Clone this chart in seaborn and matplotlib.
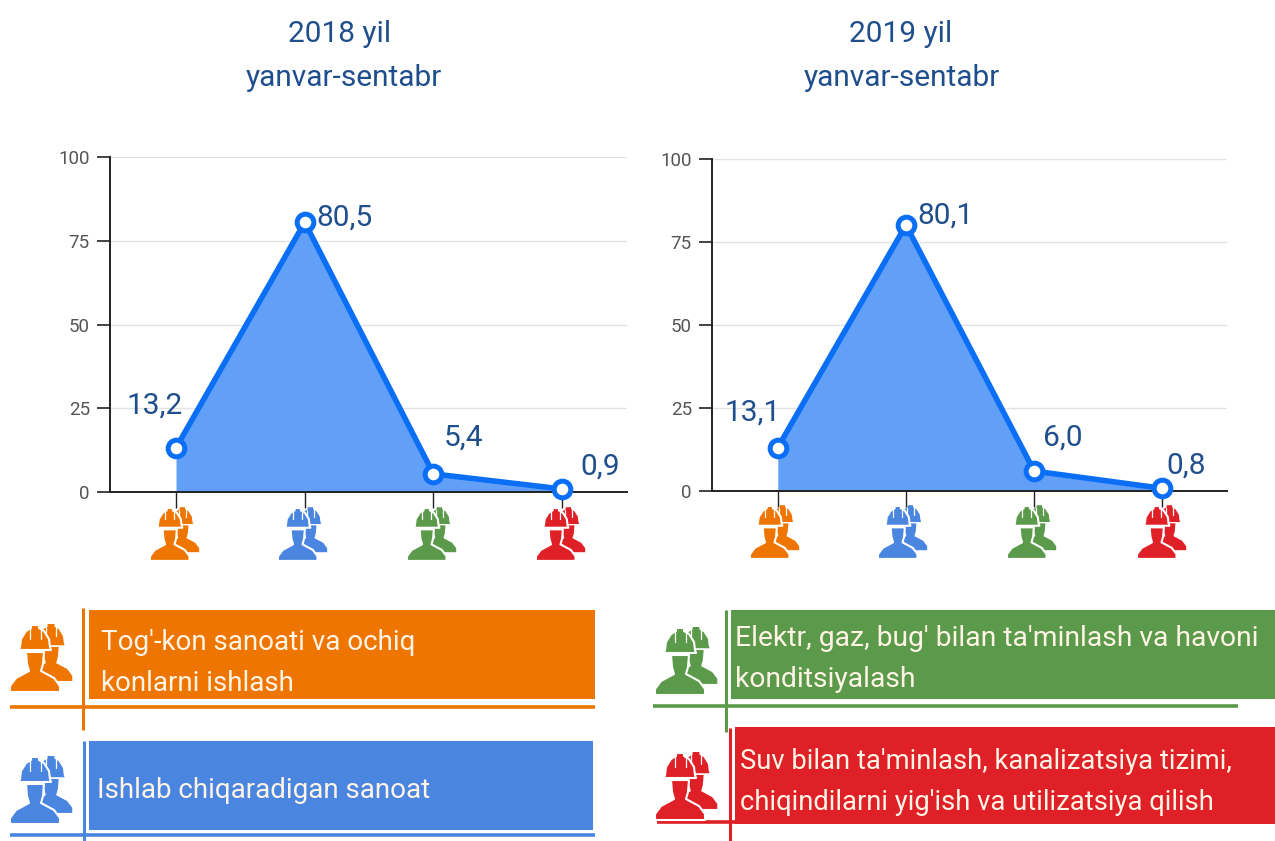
import matplotlib
matplotlib.use("Agg")
import matplotlib.pyplot as plt
import seaborn as sns
import pandas as pd
from matplotlib.patches import Rectangle, Polygon

categories = ["Tog'-kon", "Ishlab chiqarish", "Elektr", "Suv"]
values_2018 = [13.2, 80.5, 5.4, 0.9]
values_2019 = [13.1, 80.1, 6.0, 0.8]
labels_2018 = ["13,2", "80,5", "5,4", "0,9"]
labels_2019 = ["13,1", "80,1", "6,0", "0,8"]
yticks = [0, 25, 50, 75, 100]
title_2018 = ["2018 yil", "yanvar-sentabr"]
title_2019 = ["2019 yil", "yanvar-sentabr"]
legend_texts = ["Tog'-kon sanoati va ochiq\nkonlarni ishlash",
                "Ishlab chiqaradigan sanoat",
                "Elektr, gaz, bug' bilan ta'minlash va havoni\nkonditsiyalash",
                "Suv bilan ta'minlash, kanalizatsiya tizimi,\nchiqindilarni yig'ish va utilizatsiya qilish"]
colors = ["#EE7600", "#4A86E0", "#5B9A4B", "#E02027"]

W, H = 1275, 841
sns.set_theme(style="white")
plt.rcParams['font.family'] = ['Roboto', 'DejaVu Sans']
fig = plt.figure(figsize=(W / 100, H / 100), dpi=100, facecolor="white")

BLUE = "#0A6FF5"
FILL = "#62A0F8"
TXT = "#1F4E8C"

def make_ax(x0, x1, ytop, ybot):
    return fig.add_axes([x0 / W, 1 - ybot / H, (x1 - x0) / W, (ybot - ytop) / H])

def panel(ax, vals, labs, offs):
    df = pd.DataFrame({"pos": range(len(vals)), "share": vals})
    ax.fill_between(df["pos"], 0, df["share"], color=FILL, lw=0, zorder=2)
    sns.lineplot(data=df, x="pos", y="share", ax=ax, color=BLUE, lw=4.0, zorder=3,
                 marker="o", markersize=12, markerfacecolor="white",
                 markeredgecolor=BLUE, markeredgewidth=3.6, clip_on=False)
    ax.set_xlim(-0.513, 3.504)
    ax.set_ylim(0, 100)
    ax.set_yticks(yticks)
    ax.set_yticklabels([str(t) for t in yticks], fontsize=13.5, color="#555555")
    ax.set_xticks(range(4))
    ax.set_xticklabels([])
    ax.set_xlabel("")
    ax.set_ylabel("")
    ax.grid(axis="y", color="#E2E2E2", lw=1)
    ax.set_axisbelow(True)
    for s in ("top", "right"):
        ax.spines[s].set_visible(False)
    for s in ("left", "bottom"):
        ax.spines[s].set_color("#222222")
        ax.spines[s].set_linewidth(1.4)
        ax.spines[s].set_zorder(2.5)
    ax.tick_params(axis="y", length=9.5, width=1.2, color="#222222", left=True, pad=5)
    ax.tick_params(axis="x", length=11.5, width=1.0, color="#222222", bottom=True)
    for i, (v, l) in enumerate(zip(vals, labs)):
        ax.annotate(l, (i, v), xytext=offs[i], textcoords="offset pixels",
                    fontsize=21.5, color=TXT, ha="center", va="center", zorder=5)

ax1 = make_ax(110, 627, 157, 492)
panel(ax1, values_2018, labels_2018, [(-21, 42), (40, 5), (30, 36), (38, 22)])
ax2 = make_ax(712, 1227, 159, 491)
panel(ax2, values_2019, labels_2019, [(-25, 35), (40, 9), (29, 33), (24, 23)])

ov = fig.add_axes([0, 0, 1, 1], zorder=10)
ov.set_xlim(0, W)
ov.set_ylim(H, 0)
ov.axis("off")
ov.patch.set_alpha(0)

for (lines, x1, x2) in ((title_2018, 340, 344), (title_2019, 901, 902)):
    ov.text(x1, 34, lines[0], fontsize=21.5, color=TXT, ha="center", va="center")
    ov.text(x2, 78, lines[1], fontsize=21.5, color=TXT, ha="center", va="center")

HELMET = [(-15, 22), (-14, 14), (-9, 6), (-4, 3), (-4, 0), (4, 0), (4, 3), (9, 6), (14, 14), (15, 22),
          (16, 25), (-16, 25)]
BODY = [(-9, 27), (9, 27), (8, 39), (6, 46), (19, 53), (25, 61), (25, 67), (-25, 67), (-25, 61),
        (-19, 53), (-6, 46), (-8, 39)]

def worker(cx, top, s, color, z, outline):
    lw = 1.5 if outline else 0
    for shape in (BODY, HELMET):
        pts = [(cx + x * s, top + y * s) for x, y in shape]
        ov.add_patch(Polygon(pts, closed=True, fc=color, ec="white", lw=lw, zorder=z, joinstyle="round"))
    for dx in (-5.5, 5.5):
        ov.plot([cx + dx * s, cx + dx * s], [top + 4 * s, top + 14 * s], color="white", lw=.9, zorder=z + .3)

def icon(x0, y0, s, color):
    worker(x0 + 41 * s, y0 - 1 * s, .85 * s, color, 11, False)
    worker(x0 + 25 * s, y0, 1.0 * s, color, 12, True)

for cxs, y0 in (([150, 278, 407, 536], 508), ([750, 878, 1007, 1137], 506)):
    for cx, c in zip(cxs, colors):
        icon(cx, y0, .79, c)

def legend_row(icon_x, icon_y, box, vline, hline, text, tx, ty, color, size):
    bx0, bx1, by0, by1 = box
    vx, vy0, vy1 = vline
    hx0, hx1, hy = hline
    ov.add_patch(Rectangle((bx0, by0), bx1 - bx0, by1 - by0, fc=color, ec="none", zorder=5))
    ov.plot([vx, vx], [vy0, vy1], color=color, lw=2.2, zorder=6, solid_capstyle="butt")
    ov.plot([hx0, hx1], [hy, hy], color=color, lw=2.6, zorder=6, solid_capstyle="butt")
    ov.text(tx, ty, text, fontsize=size, color="#FFF4E6", ha="left", va="center",
            linespacing=1.66, zorder=7)
    icon(icon_x, icon_y, 1.0, color)

legend_row(10, 625, (89, 595, 610, 699), (83, 608, 730), (10, 595, 707), legend_texts[0], 101, 663, colors[0], 20)
legend_row(10, 757, (89, 593, 741, 830), (84, 741, 841), (10, 595, 835), legend_texts[1], 97, 790, colors[1], 20)
legend_row(655, 628, (731, 1275, 610, 699), (726, 610, 732), (653, 1238, 706), legend_texts[2], 735, 659, colors[2], 20.3)
legend_row(655, 753, (735, 1275, 727, 824), (730, 728, 841), (657, 1248, 822), legend_texts[3], 740, 782, colors[3], 19.75)

fig.savefig("out.png", dpi=100, facecolor="white")
